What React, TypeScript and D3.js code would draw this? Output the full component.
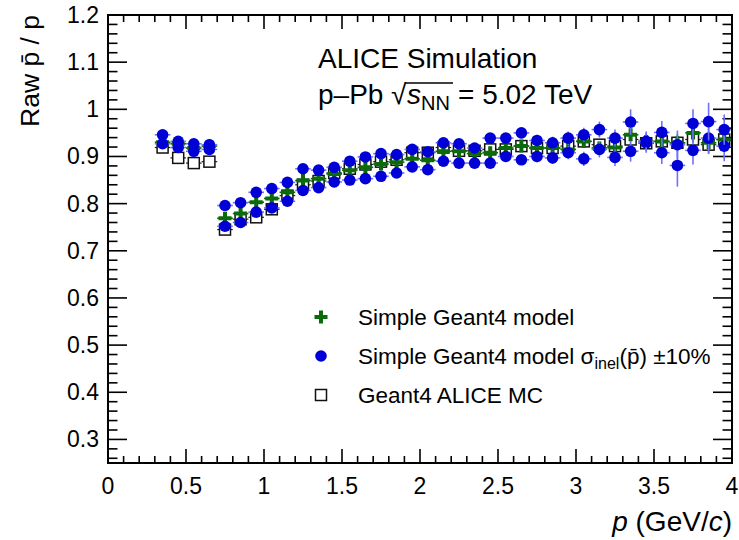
import React from 'react';
import * as d3 from 'd3';

// momentum bin centres (GeV/c)
const pBins = [
  0.35, 0.45, 0.55, 0.65, 0.75, 0.85, 0.95, 1.05, 1.15, 1.25, 1.35, 1.45, 1.55,
  1.65, 1.75, 1.85, 1.95, 2.05, 2.15, 2.25, 2.35, 2.45, 2.55, 2.65, 2.75, 2.85,
  2.95, 3.05, 3.15, 3.25, 3.35, 3.45, 3.55, 3.65, 3.75, 3.85, 3.95,
];
const binHalfWidth = 0.05;

// Simple Geant4 model
const simpleModel = [
  0.930, 0.927, 0.918, 0.922, 0.769, 0.779, 0.803, 0.811, 0.824, 0.849, 0.853,
  0.863, 0.871, 0.877, 0.884, 0.888, 0.895, 0.892, 0.911, 0.911, 0.906, 0.908,
  0.918, 0.922, 0.918, 0.918, 0.915, 0.932, 0.918, 0.919, 0.946, 0.932, 0.932,
  0.929, 0.950, 0.929, 0.936,
];
const simpleModelErr = [
  0.004, 0.004, 0.004, 0.004, 0.003, 0.003, 0.003, 0.003, 0.003, 0.003, 0.004,
  0.004, 0.004, 0.004, 0.004, 0.005, 0.005, 0.005, 0.006, 0.006, 0.006, 0.007,
  0.007, 0.008, 0.008, 0.009, 0.010, 0.010, 0.011, 0.012, 0.014, 0.014, 0.016,
  0.018, 0.020, 0.022, 0.022,
];

// Simple Geant4 model, sigma_inel(pbar) -10 %
const sigmaMinus = [
  0.946, 0.932, 0.927, 0.925, 0.796, 0.802, 0.824, 0.832, 0.845, 0.874, 0.871,
  0.877, 0.890, 0.899, 0.906, 0.904, 0.915, 0.910, 0.929, 0.927, 0.918, 0.939,
  0.939, 0.950, 0.934, 0.929, 0.939, 0.946, 0.957, 0.939, 0.973, 0.932, 0.951,
  0.925, 0.970, 0.974, 0.957,
];
const sigmaMinusErr = [
  0.006, 0.006, 0.006, 0.006, 0.004, 0.004, 0.004, 0.004, 0.004, 0.005, 0.005,
  0.005, 0.005, 0.006, 0.006, 0.006, 0.007, 0.007, 0.008, 0.008, 0.009, 0.010,
  0.010, 0.011, 0.012, 0.013, 0.014, 0.015, 0.017, 0.018, 0.027, 0.021, 0.024,
  0.030, 0.030, 0.040, 0.032,
];

// Simple Geant4 model, sigma_inel(pbar) +10 %
const sigmaPlus = [
  0.927, 0.919, 0.911, 0.915, 0.752, 0.760, 0.782, 0.791, 0.805, 0.828, 0.834,
  0.846, 0.850, 0.853, 0.858, 0.865, 0.878, 0.872, 0.890, 0.886, 0.886, 0.886,
  0.900, 0.893, 0.900, 0.897, 0.908, 0.895, 0.915, 0.898, 0.911, 0.929, 0.908,
  0.881, 0.913, 0.939, 0.922,
];
const sigmaPlusErr = [
  0.006, 0.006, 0.006, 0.006, 0.004, 0.004, 0.004, 0.004, 0.004, 0.005, 0.005,
  0.005, 0.005, 0.006, 0.006, 0.006, 0.007, 0.007, 0.008, 0.008, 0.009, 0.010,
  0.010, 0.011, 0.012, 0.013, 0.014, 0.015, 0.017, 0.018, 0.022, 0.021, 0.024,
  0.045, 0.030, 0.034, 0.032,
];

// Geant4 ALICE MC
const aliceMC = [
  0.919, 0.897, 0.886, 0.889, 0.745, 0.767, 0.771, 0.788, 0.817, 0.840, 0.848,
  0.865, 0.874, 0.883, 0.889, 0.893, 0.908, 0.908, 0.919, 0.912, 0.912, 0.915,
  0.915, 0.922, 0.918, 0.918, 0.922, 0.932, 0.925, 0.922, 0.936, 0.928, 0.932,
  0.929, 0.936, 0.925, 0.936,
];

const xMajorTicks = [0, 0.5, 1, 1.5, 2, 2.5, 3, 3.5, 4];
const xTickLabels = ['0', '0.5', '1', '1.5', '2', '2.5', '3', '3.5', '4'];
const yMajorTicks = [0.3, 0.4, 0.5, 0.6, 0.7, 0.8, 0.9, 1.0, 1.1, 1.2];
const yTickLabels = ['0.3', '0.4', '0.5', '0.6', '0.7', '0.8', '0.9', '1', '1.1', '1.2'];

const W = 739;
const H = 540;
const FONT = '"Liberation Sans", Arial, Helvetica, sans-serif';

const BLUE = '#0000d6';
const BLUE_BAR = '#7070ff';
const GREEN = '#0b6b0b';

const crossPath = 'M-6.5,-2 H-2 V-6.5 H2 V-2 H6.5 V2 H2 V6.5 H-2 V2 H-6.5 Z';

export default function App() {
  const x = d3.scaleLinear().domain([0, 4]).range([108, 732]);
  const y = d3.scaleLinear().domain([0.25, 1.2]).range([463, 15]);
  const [x0, x1] = x.range();
  const [yb, yt] = y.range();

  const xMinor = d3.range(0, 40.5, 1).map((i) => i / 10);
  const yMinor = d3.range(13, 60.5, 1).map((i) => i / 50);

  const errorBars = (
    vals: number[],
    errs: number[] | null,
    color: string,
    width: number,
    gap: number,
  ) =>
    pBins.map((p, i) => {
      const cx = x(p);
      const cy = y(vals[i]);
      const xl = x(p - binHalfWidth);
      const xr = x(p + binHalfWidth);
      const yTop = errs ? y(vals[i] + errs[i]) : cy;
      const yBot = errs ? y(vals[i] - errs[i]) : cy;
      return (
        <g key={i} stroke={color} strokeWidth={width}>
          <line x1={xl} x2={cx - gap} y1={cy} y2={cy} />
          <line x1={cx + gap} x2={xr} y1={cy} y2={cy} />
          {errs && cy - yTop > gap && <line x1={cx} x2={cx} y1={yTop} y2={cy - gap} />}
          {errs && yBot - cy > gap && <line x1={cx} x2={cx} y1={cy + gap} y2={yBot} />}
        </g>
      );
    });

  return (
    <svg
      width={W}
      height={H}
      viewBox={`0 0 ${W} ${H}`}
      style={{ position: 'absolute', left: 0, top: 0, background: '#fff' }}
      fontFamily={FONT}
    >
      <rect x={0} y={0} width={W} height={H} fill="#fff" />

      {/* axis ticks on all four sides */}
      <g stroke="#000" strokeWidth={1.6}>
        {xMinor.map((v, i) => {
          const major = Math.abs(v * 2 - Math.round(v * 2)) < 1e-6;
          const len = major ? 14 : 7;
          return (
            <g key={`xm${i}`}>
              <line x1={x(v)} x2={x(v)} y1={yb} y2={yb - len} />
              <line x1={x(v)} x2={x(v)} y1={yt} y2={yt + len} />
            </g>
          );
        })}
        {yMinor.map((v, i) => {
          const major = Math.abs(v * 10 - Math.round(v * 10)) < 1e-6;
          const len = major ? 19 : 9.5;
          return (
            <g key={`ym${i}`}>
              <line x1={x0} x2={x0 + len} y1={y(v)} y2={y(v)} />
              <line x1={x1} x2={x1 - len} y1={y(v)} y2={y(v)} />
            </g>
          );
        })}
      </g>

      {/* tick labels */}
      <g fontSize={23} fill="#000">
        {xMajorTicks.map((v, i) => (
          <text key={`xl${i}`} x={x(v)} y={494} textAnchor="middle">
            {xTickLabels[i]}
          </text>
        ))}
        {yMajorTicks.map((v, i) => (
          <text key={`yl${i}`} x={99} y={y(v) + 8} textAnchor="end">
            {yTickLabels[i]}
          </text>
        ))}
      </g>

      {/* axis titles */}
      <text x={732} y={531} textAnchor="end" fontSize={28}>
        <tspan fontStyle="italic">p</tspan> (GeV/<tspan fontStyle="italic">c</tspan>)
      </text>
      <text transform="translate(39,15) rotate(-90)" textAnchor="end" fontSize={26.5}>
        Raw p{'\u0304'} / p
      </text>

      {/* Geant4 ALICE MC */}
      <g>
        {errorBars(aliceMC, null, '#222', 1.2, 5.5)}
        {pBins.map((p, i) => (
          <rect
            key={`sq${i}`}
            x={x(p) - 5.5}
            y={y(aliceMC[i]) - 5.5}
            width={11}
            height={11}
            fill="none"
            stroke="#111"
            strokeWidth={1.5}
          />
        ))}
      </g>

      {/* simple Geant4 model */}
      <g>
        {errorBars(simpleModel, simpleModelErr, GREEN, 1.6, 0)}
        {pBins.map((p, i) => (
          <path
            key={`cr${i}`}
            d={crossPath}
            transform={`translate(${x(p)},${y(simpleModel[i])})`}
            fill={GREEN}
          />
        ))}
      </g>

      {/* cross-section variations */}
      {[
        [sigmaPlus, sigmaPlusErr],
        [sigmaMinus, sigmaMinusErr],
      ].map(([vals, errs], k) => (
        <g key={`bl${k}`}>
          {errorBars(vals, errs, BLUE_BAR, 1.6, 0)}
          {pBins.map((p, i) => (
            <circle key={`c${i}`} cx={x(p)} cy={y(vals[i])} r={5.8} fill={BLUE} />
          ))}
        </g>
      ))}

      {/* frame */}
      <rect
        x={x0}
        y={yt}
        width={x1 - x0}
        height={yb - yt}
        fill="none"
        stroke="#000"
        strokeWidth={2}
      />

      {/* labels */}
      <text x={318} y={68} fontSize={28}>
        ALICE Simulation
      </text>
      <g fontSize={28}>
        <text x={318} y={104}>p–Pb</text>
        <text x={391} y={104}>√</text>
        <line x1={405} x2={453} y1={83} y2={83} stroke="#000" strokeWidth={1.5} />
        <text x={407} y={104} fontStyle="italic">s</text>
        <text x={421} y={110} fontSize={20}>NN</text>
        <text x={458} y={104}>= 5.02 TeV</text>
      </g>

      {/* legend */}
      <g fontSize={22.5}>
        <path d={crossPath} transform="translate(321,317)" fill={GREEN} />
        <text x={358} y={325}>Simple Geant4 model</text>

        <circle cx={321} cy={356} r={5.8} fill={BLUE} />
        <text x={358} y={364}>
          Simple Geant4 model σ
          <tspan fontSize={16} dy={5}>inel</tspan>
          <tspan dy={-5}>(p{'\u0304'}) ±10%</tspan>
        </text>

        <rect x={315.5} y={389.5} width={11} height={11} fill="none" stroke="#111" strokeWidth={1.5} />
        <text x={358} y={403}>Geant4 ALICE MC</text>
      </g>
    </svg>
  );
}
